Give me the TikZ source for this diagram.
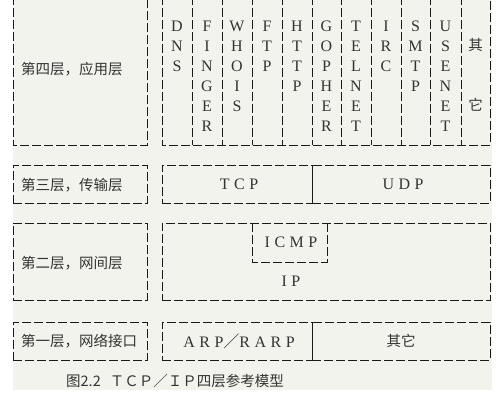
\documentclass[tikz,border=0pt]{standalone}
\usepackage{fontspec}
\newfontfamily\cjk{Noto Sans CJK SC}
\newfontfamily\lat{Liberation Serif}
\newfontfamily\latsp[LetterSpace=28]{Liberation Serif}
\definecolor{bgc}{HTML}{F3F3EE}
\definecolor{ink}{HTML}{1A1A1A}
\definecolor{txt}{HTML}{333333}
\begin{document}
\begin{tikzpicture}[x=1pt,y=-1pt,
  dl/.style={draw=ink, line width=1pt, dash pattern=on 9pt off 3pt},
  box/.style={dl, rectangle, inner sep=0pt, outer sep=0pt},
  zh/.style={font=\cjk\fontsize{14.5}{16}\selectfont, text=txt, inner sep=0pt},
  ltr/.style={font=\lat\fontsize{16}{17}\selectfont, text=txt, inner sep=0pt, anchor=base},
  lsp/.style={font=\latsp\fontsize{16}{17}\selectfont, text=txt, inner sep=0pt}]
\useasboundingbox (0,0) rectangle (500,400);
\clip (0,0) rectangle (500,400);
\fill[bgc] (13,0) rectangle (492,390);

% layer 4
\draw[dl] (13,-4) -- (13,145) -- (147,145) -- (147,-4);
\draw[dl] (162,-4) -- (162,145) -- (490,145) -- (490,-4);
\foreach \x in {192,222,252,282,312,341,371,401,430,461}
  \draw[dl] (\x,-4) -- (\x,145);
\node[zh, anchor=west] (l4) at (21,69) {第四层，应用层};
\foreach \x/\w [count=\i] in {177/{D,N,S},207/{F,I,N,G,E,R},237/{W,H,O,I,S},267/{F,T,P},297/{H,T,T,P},326.5/{G,O,P,H,E,R},356/{T,E,L,N,E,T},386/{I,R,C},415.5/{S,M,T,P},445.5/{U,S,E,N,E,T}}
{
  \foreach \l [count=\k] in \w {
    \node[ltr] (c\i-\k) at (\x, 11.5+20*\k) {\l};
  }
}
\node[zh] (qi4) at (475.5,45) {其};
\node[zh] (ta4) at (475.5,105) {它};

% layer 3
\node[box, minimum width=134, minimum height=38] (b3) at (80,184) {};
\node[box, minimum width=150, minimum height=38] (btcp) at (237,184) {};
\node[box, minimum width=178, minimum height=38] (budp) at (401,184) {};
\node[zh, anchor=west] (l3) at (21,185) {第三层，传输层};
\node[lsp] (tcp) at (239,184) {TCP};
\node[lsp] (udp) at (403,184) {UDP};

% layer 2
\node[box, minimum width=134, minimum height=77] (b2) at (80,261.5) {};
\node[box, minimum width=328, minimum height=77] (bip) at (326,261.5) {};
\draw[dl] (252,223) -- (252,262) -- (327,262) -- (327,223);
\node[zh, anchor=west] (l2) at (21,263) {第二层，网间层};
\node[lsp] (icmp) at (291,242) {ICMP};
\node[lsp] (ip) at (291,281) {IP};

% layer 1
\node[box, minimum width=134, minimum height=38] (b1) at (80,341) {};
\node[box, minimum width=150, minimum height=38] (barp) at (237,341) {};
\node[box, minimum width=178, minimum height=38] (both) at (401,341) {};
\node[zh, anchor=west] (l1) at (21,341) {第一层，网络接口};
\node[lsp] (arp) at (239,341) {ARP{\cjk ／}RARP};
\node[zh] (oth) at (401,341) {其它};

% caption
\node[zh, anchor=west] (cap) at (66,381) {图2.2\hspace{9pt}ＴＣＰ／ＩＰ四层参考模型};
\end{tikzpicture}
\end{document}
